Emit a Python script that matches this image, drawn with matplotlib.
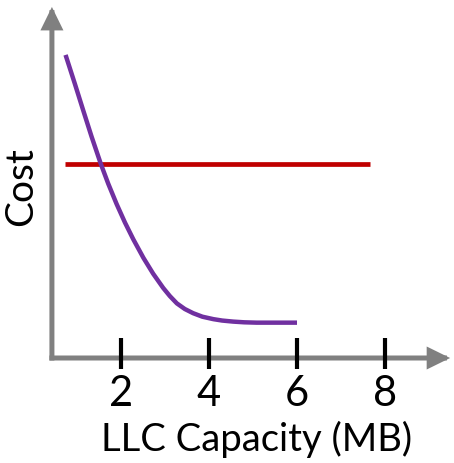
import matplotlib
matplotlib.use("Agg")
import matplotlib.pyplot as plt
from matplotlib.patches import FancyArrowPatch

# LLC capacity (MB) vs cost
capacity = [0.74, 0.95, 1.14, 1.33, 1.54, 1.71, 1.90, 2.09, 2.28, 2.51,
            2.73, 2.96, 3.11, 3.27, 3.45, 3.64, 3.85, 4.10, 4.30, 4.55,
            4.80, 5.08, 5.50, 6.00]
cost_curve = [8.66, 7.84, 7.08, 6.33, 5.55, 4.98, 4.40, 3.87, 3.39, 2.86,
              2.41, 2.00, 1.77, 1.56, 1.40, 1.28, 1.18, 1.11, 1.07, 1.04,
              1.02, 1.01, 1.01, 1.01]
flat_x = [0.73, 7.66]
flat_cost = [5.54, 5.54]
tick_values = [2, 4, 6, 8]
tick_labels = ["2", "4", "6", "8"]

FONT = "Lato"
GRAY = "#808080"
PURPLE = "#7030A0"
RED = "#C00000"

fig = plt.figure(figsize=(4.54, 4.63), dpi=100)
ax = fig.add_axes([0, 0, 1, 1])
ax.set_xlim(-0.75, 9.568)
ax.set_ylim(-3.0, 10.229)
for s in ax.spines.values():
    s.set_visible(False)

# axis arrows
x0, y0 = 0.43, 0.0
for end in [(x0, 10.03), (9.48, y0)]:
    arr = FancyArrowPatch((x0, y0), end, arrowstyle="-|>,head_length=11,head_width=5.4",
                          mutation_scale=1, color=GRAY, lw=3.6, zorder=2,
                          shrinkA=0, shrinkB=0, joinstyle="miter", capstyle="projecting")
    ax.add_patch(arr)

# tick marks on the x axis
ax.vlines(tick_values, -0.31, 0.57, colors="black", lw=3.0, zorder=3)
for v, lab in zip(tick_values, tick_labels):
    ax.text(v, -1.02, lab, ha="center", va="center", fontsize=30,
            family=FONT, color="black")

ax.plot(flat_x, flat_cost, color=RED, lw=3.4, solid_capstyle="butt", zorder=4)
ax.plot(capacity, cost_curve, color=PURPLE, lw=3.2, solid_capstyle="butt",
        solid_joinstyle="round", zorder=5)

ax.text(5.09, -2.34, "LLC Capacity (MB)", ha="center", va="center", fontsize=27.5,
        family=FONT, color="black")
ax.text(-0.28, 4.89, "Cost", ha="center", va="center", rotation=90, fontsize=28,
        family=FONT, color="black")

ax.set_xticks([])
ax.set_yticks([])
fig.savefig("out.png", dpi=100)
